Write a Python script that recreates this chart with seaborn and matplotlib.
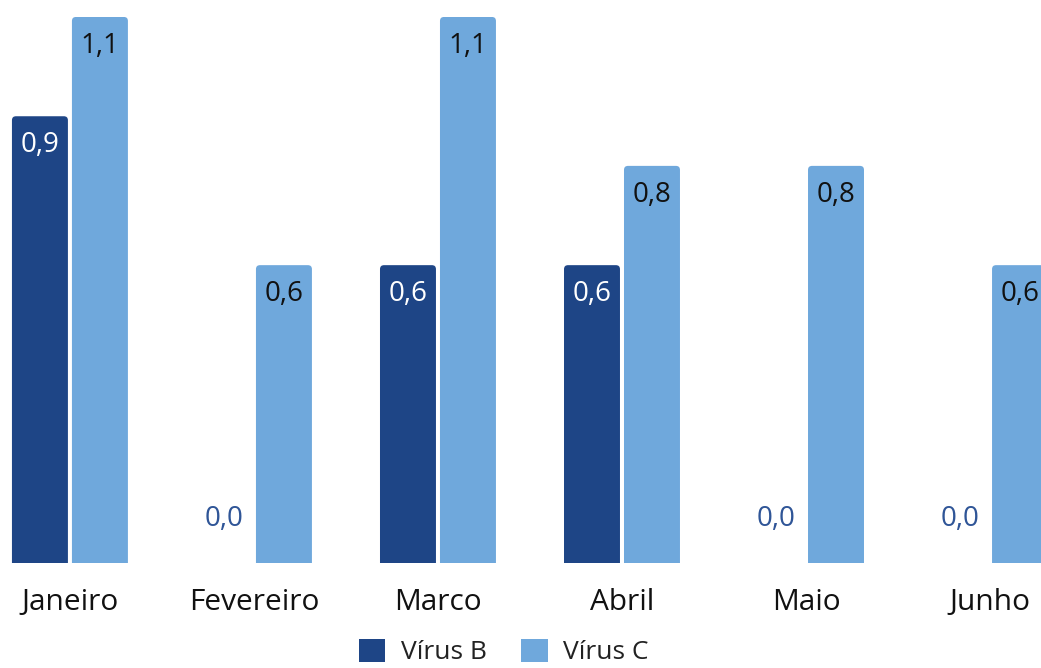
import matplotlib
matplotlib.use("Agg")
import matplotlib.pyplot as plt
from matplotlib.patches import FancyBboxPatch, Patch
import pandas as pd
import seaborn as sns

meses = ["Janeiro", "Fevereiro", "Marco", "Abril", "Maio", "Junho"]
virus_b = [0.9, 0.0, 0.6, 0.6, 0.0, 0.0]
virus_c = [1.1, 0.6, 1.1, 0.8, 0.8, 0.6]
series = ["Vírus B", "Vírus C"]
cores = ["#1E4586", "#6FA8DC"]
cor_zero = "#2F5597"

df = pd.DataFrame({
    "mes": meses * 2,
    "valor": virus_b + virus_c,
    "serie": [series[0]] * len(meses) + [series[1]] * len(meses),
})

sns.set_theme(style="white")
plt.rcParams["font.family"] = ["Open Sans", "DejaVu Sans"]

fig = plt.figure(figsize=(10.41, 6.68), dpi=100)
ax = fig.add_axes([0, 0.1572, 1, 0.9746 - 0.1572])

sns.barplot(data=df, x="mes", y="valor", hue="serie", order=meses,
            hue_order=series, palette=cores, width=0.652, gap=0.067,
            legend=False, ax=ax, saturation=1, errorbar=None)

ax.set_xlim(-0.380, 5.277)
ax.set_ylim(0, 1.1)

# swap plain rectangles for bars with rounded top corners
px_x = 1041 / (5.277 + 0.380)
px_y = (0.9746 - 0.1572) * 668 / 1.1
r = 4 / px_x
aspect = (1 / px_y) / (1 / px_x)
bars = list(ax.patches)
for p in bars:
    x0, w, h = p.get_x(), p.get_width(), p.get_height()
    fc = p.get_facecolor()
    p.remove()
    if h <= 0:
        continue
    fb = FancyBboxPatch((x0, -0.05), w, h + 0.05,
                        boxstyle=f"round,pad=0,rounding_size={r}",
                        mutation_aspect=aspect, facecolor=fc,
                        edgecolor="none", clip_on=True)
    ax.add_patch(fb)

# value labels
slot = 0.652 / 2
for i, m in enumerate(meses):
    for j, vals in enumerate([virus_b, virus_c]):
        v = vals[i]
        cx = i - 0.652 / 2 + slot * (j + 0.5)
        txt = f"{v:.1f}".replace(".", ",")
        if v == 0:
            ax.text(cx, 44 / px_y, txt, ha="center", va="center",
                    fontsize=20, color=cor_zero)
        else:
            ax.text(cx, v - 29 / px_y, txt, ha="center", va="center",
                    fontsize=20, color="white" if j == 0 else "#111111")

ax.set_xlabel("")
ax.set_ylabel("")
ax.set_yticks([])
ax.tick_params(axis="x", length=0, pad=18, labelsize=21.5, labelcolor="#111111")
for s in ax.spines.values():
    s.set_visible(False)

handles = [Patch(facecolor=c, edgecolor="none") for c in cores]
fig.legend(handles, series, loc="center", bbox_to_anchor=(0.484, 0.024),
           ncol=2, frameon=False, fontsize=19, handlelength=1.0,
           handleheight=1.0, columnspacing=1.3, handletextpad=0.6,
           labelcolor="#222222", borderpad=0.1)

fig.savefig("out.png", dpi=100)
